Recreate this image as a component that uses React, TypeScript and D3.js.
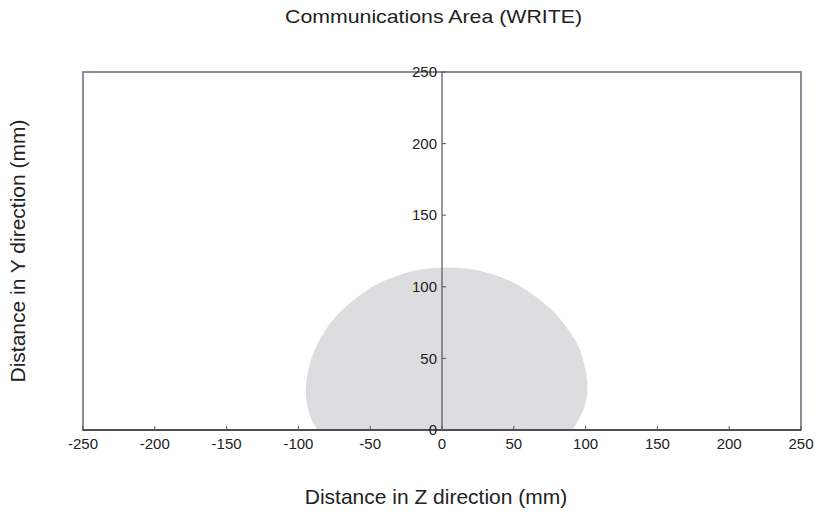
import * as d3 from "d3";

const xTicks = [-250, -200, -150, -100, -50, 0, 50, 100, 150, 200, 250];
const yTicks = [0, 50, 100, 150, 200, 250];

// outline of the communications area: Z (mm) and Y (mm), from bottom-left round to bottom-right
const areaZ = [
  -86.6, -89.6, -93.1, -94.9, -94, -91.2, -86.5, -79.7, -69.5, -55.5, -45, -30, -15, 3,
  21.4, 37.5, 51.5, 62.2, 76.3, 86.5, 94, 98.3, 100.7, 101.2, 98.4, 93.8, 91,
];
const areaY = [
  0, 4.7, 14, 25.6, 37.2, 48.9, 60.5, 72, 83.8, 95.4, 102, 108, 112, 113.5,
  112, 108, 102, 95.4, 83.8, 72, 60.5, 48.9, 37.2, 25.6, 14, 4.7, 0,
];

const App = () => {
  const width = 816;
  const height = 512;
  const margin = { top: 72, right: 15, bottom: 82, left: 83 };
  const innerWidth = width - margin.left - margin.right;
  const innerHeight = height - margin.top - margin.bottom;

  const xScale = d3.scaleLinear().domain([-250, 250]).range([0, innerWidth]);
  const yScale = d3.scaleLinear().domain([0, 250]).range([innerHeight, 0]);

  const pts = areaZ.map((z, i) => [xScale(z), yScale(areaY[i])] as [number, number]);
  const outline = d3.line().curve(d3.curveCatmullRom.alpha(0.5))(pts) + "Z";

  const font = "'Liberation Sans', Arial, sans-serif";

  return (
    <svg
      width={width}
      height={height}
      style={{ position: "absolute", left: 0, top: 0, background: "#fff" }}
      fontFamily={font}
    >
      <text
        x={433.5}
        y={23}
        fontSize={19}
        textAnchor="middle"
        fill="#222"
        textLength={297}
        lengthAdjust="spacingAndGlyphs"
      >
        Communications Area (WRITE)
      </text>
      <g transform={`translate(${margin.left}, ${margin.top})`}>
        <path d={outline} fill="#dcdddf" />
        <rect
          x={0}
          y={0}
          width={innerWidth}
          height={innerHeight}
          fill="none"
          stroke="#8a9097"
          strokeWidth={2}
        />
        <line x1={0} x2={innerWidth} y1={innerHeight} y2={innerHeight} stroke="#3a3a3a" strokeWidth={1.3} />
        <line x1={xScale(0)} x2={xScale(0)} y1={0} y2={innerHeight} stroke="#555" strokeWidth={1.2} />
        {xTicks.map((t) => (
          <g key={t} transform={`translate(${xScale(t)}, ${innerHeight})`}>
            <line y2={-4} stroke="#555" />
            <text y={19} fontSize={15} textAnchor="middle" fill="#222">
              {t}
            </text>
          </g>
        ))}
        {yTicks.map((t) => (
          <g key={t} transform={`translate(${xScale(0)}, ${yScale(t)})`}>
            <line x2={4} stroke="#555" />
            <text x={-5} dy=".35em" fontSize={15} textAnchor="end" fill="#222">
              {t}
            </text>
          </g>
        ))}
      </g>
      <text x={436} y={504} fontSize={21} textAnchor="middle" fill="#222">
        Distance in Z direction (mm)
      </text>
      <text
        transform={`translate(25, 251) rotate(-90)`}
        fontSize={21}
        textAnchor="middle"
        fill="#222"
      >
        Distance in Y direction (mm)
      </text>
    </svg>
  );
};

export default App;
